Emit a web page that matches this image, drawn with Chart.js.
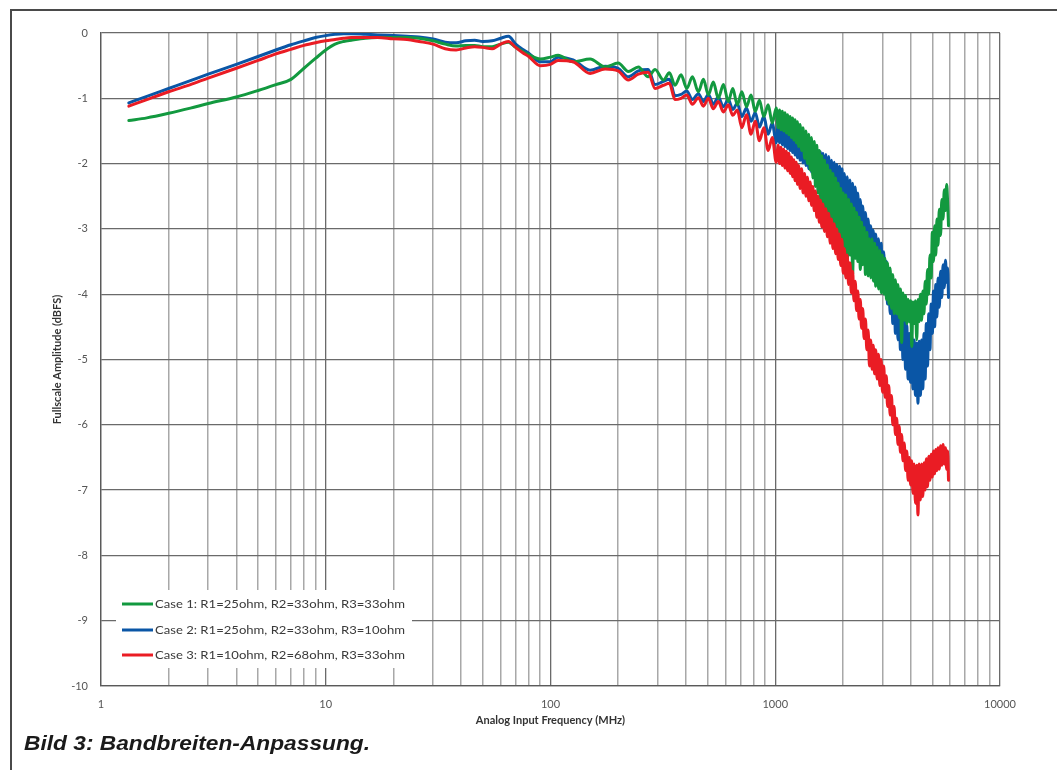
<!DOCTYPE html>
<html>
<head>
<meta charset="utf-8">
<script src="https://cdn.jsdelivr.net/npm/chart.js@4.4.0/dist/chart.umd.min.js"></script>
<style>
html,body{margin:0;padding:0;background:#fff;width:1057px;height:770px;overflow:hidden;}
#frame{position:absolute;left:10px;top:9px;width:1100px;height:800px;border:2px solid #4a4a4a;box-sizing:border-box;}
#wrap{position:absolute;left:0;top:0;width:1057px;height:735px;}
#caption{position:absolute;left:24px;top:732px;font:italic bold 21px "Liberation Sans", Arial, sans-serif;line-height:21px;color:#1a1a1a;transform-origin:0 0;white-space:nowrap;}
</style>
</head>
<body>
<div id="frame"></div>
<div id="wrap"><canvas id="c" width="1057" height="735" style="width:1057px;height:735px"></canvas></div>
<div id="caption">Bild 3: Bandbreiten-Anpassung.</div>
<script>
// ---- data ----
const freqMHz = [
  1.33, 1.6, 2, 2.5, 3, 4, 5, 6, 7, 8, 9, 10, 11, 12, 13, 15, 17, 20, 23, 26, 30, 34, 38, 42, 46, 50, 55, 60, 65, 70, 75, 80, 90,
  100, 108, 126, 150, 175, 200, 222, 246, 272, 292, 318, 338, 358, 381, 404, 428, 455, 479, 504, 530, 558, 588, 618, 647, 678,
  710, 745, 780, 815, 850, 890, 930, 970, 1010,
  1030, 1045, 1060, 1075, 1090, 1105, 1120, 1135, 1150, 1165,
  1180, 1195, 1210, 1225, 1240, 1255, 1270, 1290, 1310, 1330,
  1350, 1370, 1390, 1410, 1430, 1450, 1470, 1490, 1510, 1530,
  1550, 1570, 1590, 1610, 1630, 1655, 1680, 1705, 1730, 1755,
  1780, 1805, 1830, 1855, 1880, 1905, 1930, 1955, 1980, 2005,
  2030, 2060, 2090, 2120, 2150, 2180, 2210, 2240, 2270, 2300,
  2330, 2360, 2390, 2420, 2450, 2485, 2520, 2555, 2590, 2625,
  2660, 2695, 2730, 2765, 2800, 2840, 2880, 2920, 2960, 3000,
  3040, 3080, 3120, 3160, 3200, 3245, 3290, 3335, 3380, 3425,
  3470, 3515, 3560, 3605, 3650, 3700, 3750, 3800, 3850, 3900,
  3950, 4000, 4050, 4100, 4150, 4205, 4260, 4315, 4370, 4425,
  4480, 4535, 4590, 4645, 4700, 4760, 4820, 4880, 4940, 5000,
  5060, 5120, 5180, 5240, 5300, 5370, 5440, 5510, 5580, 5650,
  5720, 5790, 5850, 5900
];
const case1 = [
  -1.34, -1.30, -1.23, -1.15, -1.08, -0.98, -0.88, -0.79, -0.71, -0.54, -0.39, -0.26, -0.17, -0.13, -0.11, -0.08, -0.07, -0.07, -0.07, -0.08, -0.12, -0.17, -0.20, -0.19, -0.19, -0.21, -0.21, -0.17, -0.14, -0.22, -0.28, -0.33, -0.40,
  -0.37, -0.34, -0.44, -0.40, -0.52, -0.46, -0.59, -0.52, -0.67, -0.56, -0.72, -0.61, -0.80, -0.64, -0.85, -0.67, -0.90, -0.71, -0.95, -0.75, -1.00, -0.79, -1.05, -0.85, -1.10,
  -0.90, -1.13, -0.95, -1.20, -1.03, -1.28, -1.10, -1.38, -1.15,
  -1.45, -1.18, -1.48, -1.20, -1.50, -1.22, -1.53, -1.25, -1.56, -1.28,
  -1.60, -1.30, -1.64, -1.33, -1.68, -1.36, -1.74, -1.40, -1.80, -1.45,
  -1.92, -1.50, -2.00, -1.55, -2.10, -1.60, -2.22, -1.66, -2.35, -1.72,
  -2.45, -1.80, -2.60, -1.88, -2.70, -1.95, -2.78, -2.02, -2.88, -2.10,
  -2.92, -2.15, -3.00, -2.22, -3.10, -2.30, -3.22, -2.38, -3.35, -2.45,
  -3.30, -2.48, -3.55, -2.55, -3.40, -2.62, -3.70, -2.68, -3.45, -2.75,
  -3.50, -2.82, -3.62, -2.90, -3.55, -2.98, -3.70, -3.05, -3.72, -3.15,
  -3.75, -3.15, -3.80, -3.22, -3.88, -3.28, -3.92, -3.33, -3.98, -3.40,
  -4.00, -3.45, -4.08, -3.52, -4.15, -3.60, -4.22, -3.70, -4.30, -3.78,
  -4.30, -3.85, -4.36, -3.92, -4.74, -3.98, -4.40, -4.02, -4.45, -4.08,
  -4.42, -4.10, -4.80, -4.12, -4.45, -4.10, -4.70, -4.08, -4.42, -4.00,
  -4.40, -3.95, -4.30, -3.80, -4.15, -3.62, -4.00, -3.40, -3.75, -3.05,
  -3.50, -2.95, -3.40, -2.85, -3.25, -2.70, -3.10, -2.55, -2.85, -2.40,
  -2.72, -2.32, -2.60, -2.95
];
const case2 = [
  -1.07, -0.97, -0.85, -0.73, -0.63, -0.48, -0.36, -0.26, -0.18, -0.12, -0.07, -0.04, -0.02, -0.01, -0.01, -0.02, -0.03, -0.04, -0.05, -0.06, -0.09, -0.14, -0.15, -0.12, -0.11, -0.13, -0.12, -0.08, -0.05, -0.17, -0.25, -0.31, -0.44,
  -0.44, -0.37, -0.41, -0.57, -0.51, -0.54, -0.67, -0.58, -0.56, -0.79, -0.74, -0.71, -0.96, -0.94, -0.89, -1.02, -0.93, -1.05, -0.94, -1.09, -0.98, -1.13, -1.02, -1.17, -1.08,
  -1.28, -1.15, -1.35, -1.22, -1.44, -1.28, -1.55, -1.38, -1.68,
  -1.40, -1.68, -1.42, -1.71, -1.44, -1.74, -1.46, -1.77, -1.49, -1.80,
  -1.52, -1.83, -1.54, -1.87, -1.56, -1.91, -1.58, -1.95, -1.61, -1.99,
  -1.65, -2.03, -1.68, -2.08, -1.70, -2.13, -1.73, -2.18, -1.76, -2.24,
  -1.80, -2.30, -1.82, -2.35, -1.84, -2.40, -1.86, -2.45, -1.89, -2.50,
  -1.95, -2.55, -1.98, -2.60, -2.01, -2.65, -2.04, -2.70, -2.08, -2.75,
  -2.15, -2.78, -2.20, -2.82, -2.25, -2.86, -2.30, -2.90, -2.36, -2.97,
  -2.45, -3.00, -2.55, -3.05, -2.65, -3.12, -2.75, -3.20, -2.85, -3.30,
  -2.95, -3.45, -3.02, -3.55, -3.08, -3.65, -3.15, -3.78, -3.22, -3.94,
  -3.35, -4.00, -3.50, -4.15, -3.65, -4.30, -3.78, -4.45, -3.92, -4.60,
  -4.05, -4.70, -4.15, -4.85, -4.25, -5.00, -4.35, -5.15, -4.48, -5.30,
  -4.60, -5.35, -4.65, -5.45, -4.70, -5.55, -4.75, -5.67, -4.72, -5.55,
  -4.70, -5.45, -4.60, -5.30, -4.45, -5.10, -4.30, -4.85, -4.15, -4.60,
  -3.95, -4.50, -3.85, -4.35, -3.75, -4.20, -3.65, -4.05, -3.55, -3.90,
  -3.48, -3.82, -3.60, -4.05
];
const case3 = [
  -1.12, -1.02, -0.90, -0.79, -0.69, -0.54, -0.42, -0.32, -0.25, -0.19, -0.15, -0.12, -0.10, -0.08, -0.07, -0.07, -0.07, -0.09, -0.10, -0.13, -0.17, -0.24, -0.26, -0.23, -0.21, -0.22, -0.24, -0.17, -0.13, -0.22, -0.30, -0.36, -0.50,
  -0.48, -0.42, -0.44, -0.62, -0.55, -0.58, -0.72, -0.63, -0.60, -0.85, -0.80, -0.77, -1.02, -1.00, -0.95, -1.09, -0.99, -1.12, -1.00, -1.16, -1.05, -1.21, -1.10, -1.26, -1.18,
  -1.45, -1.25, -1.55, -1.35, -1.65, -1.45, -1.80, -1.60, -1.98,
  -1.72, -2.00, -1.75, -2.03, -1.78, -2.07, -1.81, -2.11, -1.84, -2.15,
  -1.90, -2.20, -1.94, -2.26, -1.98, -2.32, -2.03, -2.38, -2.08, -2.45,
  -2.15, -2.50, -2.21, -2.57, -2.28, -2.64, -2.35, -2.72, -2.42, -2.82,
  -2.50, -2.90, -2.56, -2.97, -2.62, -3.04, -2.69, -3.12, -2.76, -3.22,
  -2.85, -3.30, -2.92, -3.38, -3.00, -3.47, -3.08, -3.56, -3.16, -3.68,
  -3.30, -3.75, -3.40, -3.85, -3.52, -3.98, -3.65, -4.10, -3.80, -4.25,
  -3.95, -4.38, -4.08, -4.52, -4.22, -4.68, -4.38, -4.85, -4.55, -5.10,
  -4.70, -5.15, -4.78, -5.22, -4.85, -5.30, -4.92, -5.40, -5.00, -5.50,
  -5.10, -5.58, -5.25, -5.72, -5.40, -5.85, -5.55, -6.00, -5.72, -6.15,
  -5.90, -6.30, -6.02, -6.42, -6.15, -6.55, -6.28, -6.70, -6.40, -6.85,
  -6.50, -6.92, -6.55, -7.05, -6.60, -7.20, -6.62, -7.38, -6.60, -7.15,
  -6.60, -7.10, -6.58, -7.00, -6.52, -6.95, -6.48, -6.85, -6.45, -6.80,
  -6.40, -6.75, -6.38, -6.70, -6.35, -6.68, -6.32, -6.62, -6.30, -6.60,
  -6.35, -6.68, -6.40, -6.85
];
const seriesLabels = [
  'Case 1: R1=25ohm, R2=33ohm, R3=33ohm',
  'Case 2: R1=25ohm, R2=33ohm, R3=10ohm',
  'Case 3: R1=10ohm, R2=68ohm, R3=33ohm'
];
const xDecades = [1, 10, 100, 1000, 10000];
const xMinorSteps = [2, 3, 4, 5, 6, 7, 8, 9];
const yMin = -10, yMax = 0, yStep = 1;
const xTitle = 'Analog Input Frequency (MHz)';
const yTitle = 'Fullscale Amplitude (dBFS)';

// ---- build ----
const xTickValues = [];
xDecades.forEach((d, i) => {
  xTickValues.push(d);
  if (i < xDecades.length - 1) xMinorSteps.forEach(m => xTickValues.push(d * m));
});
const toPts = arr => arr.map((v, i) => ({x: freqMHz[i], y: v}));
const colors = ['#12993f', '#0a56a6', '#ea1c24'];

const tickFont = {family: 'Lato, "Open Sans", sans-serif', size: 11};
const titleFont = {family: 'Lato, "Open Sans", sans-serif', size: 11, weight: 'bold'};

const boxLegend = {
  id: 'boxLegend',
  afterDatasetsDraw(chart) {
    const {ctx, chartArea: a} = chart;
    ctx.save();
    ctx.fillStyle = '#ffffff';
    ctx.fillRect(a.left + 15, a.bottom - 96, 296, 78);
    const rows = [a.bottom - 82, a.bottom - 56, a.bottom - 31];
    ctx.font = '12px Lato, "Open Sans", sans-serif';
    const w0 = ctx.measureText(seriesLabels[0]).width;
    const sx = 250 / w0;
    chart.data.datasets.forEach((ds, i) => {
      const y = rows[i];
      ctx.strokeStyle = ds.borderColor;
      ctx.lineWidth = 3;
      ctx.beginPath();
      ctx.moveTo(a.left + 21, y);
      ctx.lineTo(a.left + 52, y);
      ctx.stroke();
      ctx.save();
      ctx.translate(a.left + 54, y);
      ctx.scale(sx, 1);
      ctx.fillStyle = '#3a3a3a';
      ctx.textBaseline = 'middle';
      ctx.textAlign = 'left';
      ctx.fillText(ds.label, 0, 0);
      ctx.restore();
    });
    ctx.restore();
  }
};

new Chart(document.getElementById('c'), {
  type: 'line',
  data: {
    datasets: [
      {label: seriesLabels[0], data: toPts(case1), borderColor: colors[0], order: 1},
      {label: seriesLabels[1], data: toPts(case2), borderColor: colors[1], order: 2},
      {label: seriesLabels[2], data: toPts(case3), borderColor: colors[2], order: 0}
    ]
  },
  options: {
    responsive: false,
    animation: false,
    devicePixelRatio: 1,
    layout: {padding: {left: 0, top: 33, right: 57, bottom: 0}},
    plugins: {legend: {display: false}, tooltip: {enabled: false}},
    elements: {
      point: {radius: 0},
      line: {borderWidth: 3, cubicInterpolationMode: 'monotone', borderJoinStyle: 'round', borderCapStyle: 'round'}
    },
    scales: {
      x: {
        type: 'logarithmic', min: 1, max: 10000, position: 'bottom',
        afterBuildTicks: s => { s.ticks = xTickValues.map(v => ({value: v, major: xDecades.includes(v)})); },
        afterFit: s => { s.height = 49; },
        ticks: {
          autoSkip: false, maxRotation: 0, minRotation: 0, padding: 12, color: '#555555', font: tickFont,
          callback: v => xDecades.includes(v) ? String(v) : ''
        },
        grid: {
          drawTicks: false,
          color: c => (c.tick && xDecades.includes(c.tick.value)) ? '#6a6a6a' : '#a8a8a8',
          lineWidth: c => (c.tick && xDecades.includes(c.tick.value)) ? 1.3 : 1.5
        },
        border: {display: true, color: '#5a5a5a', width: 1.3},
        title: {display: true, text: xTitle, color: '#333333', font: titleFont, padding: {top: 0, bottom: 8}}
      },
      y: {
        min: yMin, max: yMax,
        afterFit: s => { s.width = 101; },
        ticks: {stepSize: yStep, padding: 13, color: '#555555', font: tickFont},
        grid: {drawTicks: false, color: '#6a6a6a', lineWidth: 1.3},
        border: {display: true, color: '#5a5a5a', width: 1.3},
        title: {display: true, text: yTitle, color: '#333333', font: titleFont, padding: {top: 51, bottom: 0}}
      }
    }
  },
  plugins: [boxLegend]
});

const cap = document.getElementById('caption');
const cw = cap.getBoundingClientRect().width;
cap.style.transform = 'scaleX(' + (346 / cw) + ')';
</script>
</body>
</html>
